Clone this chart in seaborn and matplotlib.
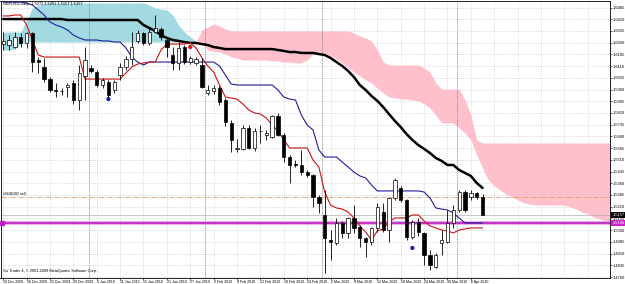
import numpy as np
import pandas as pd
import matplotlib
matplotlib.use("Agg")
import matplotlib.pyplot as plt
import seaborn as sns

# ---------------- data ----------------
title_text = "GBPUSD,Daily  1.5272 1.5291 1.5157 1.5157"
copyright_text = "Go Trader 4, \u00a9 2001-2009 MetaQuotes Software Corp."
order_text = "#5646282 sell"

date_labels = ["10 Dec 2009", "16 Dec 2009", "22 Dec 2009", "29 Dec 2009", "5 Jan 2010",
               "11 Jan 2010", "15 Jan 2010", "21 Jan 2010", "27 Jan 2010", "2 Feb 2010",
               "8 Feb 2010", "12 Feb 2010", "18 Feb 2010", "24 Feb 2010", "2 Mar 2010",
               "8 Mar 2010", "12 Mar 2010", "18 Mar 2010", "24 Mar 2010", "30 Mar 2010",
               "6 Apr 2010"]
month_start_bars = [15, 35, 55, 78]

price_ticks = [1.4760, 1.4835, 1.4910, 1.4985, 1.5060, 1.5135, 1.5210, 1.5285, 1.5360,
               1.5435, 1.5510, 1.5585, 1.5660, 1.5735, 1.5810, 1.5885, 1.5960, 1.6035,
               1.6110, 1.6185, 1.6260, 1.6335, 1.6410, 1.6485]

open_ = [1.6251, 1.6245, 1.6232, 1.6296, 1.6258, 1.6322, 1.6149, 1.6104, 1.6027, 1.5957,
         1.5951, 1.5976, 1.6002, 1.5893, 1.6047, 1.6098, 1.6072, 1.5989, 1.6008, 1.5957,
         1.6053, 1.6104, 1.6155, 1.6271, 1.6322, 1.6258, 1.6328, 1.6347, 1.6277, 1.6181,
         1.6130, 1.6232, 1.6136, 1.6130, 1.6117, 1.5938, 1.5951, 1.5970, 1.5893, 1.5746,
         1.5580, 1.5580, 1.5714, 1.5586, 1.5695, 1.5669, 1.5656, 1.5790, 1.5669, 1.5528,
         1.5483, 1.5477, 1.5432, 1.5413, 1.5272, 1.5157, 1.4997, 1.4978, 1.5106, 1.5042,
         1.5138, 1.5080, 1.5010, 1.4984, 1.5074, 1.5176, 1.5061, 1.5266, 1.5330, 1.5253,
         1.5016, 1.5112, 1.5042, 1.4901, 1.4824, 1.4978, 1.4984, 1.5106, 1.5189, 1.5304,
         1.5272, 1.5298, 1.5272]
high = [1.6328, 1.6309, 1.6328, 1.6322, 1.6328, 1.6328, 1.6168, 1.6162, 1.6040, 1.6002,
        1.5970, 1.6002, 1.6021, 1.6117, 1.6232, 1.6117, 1.6085, 1.6034, 1.6021, 1.6021,
        1.6130, 1.6175, 1.6328, 1.6341, 1.6328, 1.6354, 1.6437, 1.6360, 1.6290, 1.6232,
        1.6264, 1.6245, 1.6175, 1.6168, 1.6162, 1.5989, 1.5989, 1.5983, 1.5906, 1.5765,
        1.5643, 1.5733, 1.5733, 1.5714, 1.5733, 1.5701, 1.5797, 1.5810, 1.5682, 1.5541,
        1.5509, 1.5573, 1.5445, 1.5419, 1.5285, 1.5317, 1.5061, 1.5138, 1.5118, 1.5144,
        1.5221, 1.5093, 1.5016, 1.5080, 1.5234, 1.5234, 1.5272, 1.5394, 1.5343, 1.5259,
        1.5125, 1.5138, 1.5048, 1.4933, 1.4914, 1.5061, 1.5189, 1.5221, 1.5317, 1.5317,
        1.5317, 1.5304, 1.5291]
low = [1.6213, 1.6213, 1.6226, 1.6232, 1.6226, 1.6072, 1.6066, 1.6008, 1.5944, 1.5912,
       1.5925, 1.5912, 1.5867, 1.5829, 1.5893, 1.6066, 1.5976, 1.5970, 1.5906, 1.5938,
       1.6021, 1.6085, 1.6117, 1.6258, 1.6245, 1.6245, 1.6322, 1.6277, 1.6168, 1.6085,
       1.6085, 1.6123, 1.6123, 1.6117, 1.5970, 1.5925, 1.5931, 1.5861, 1.5727, 1.5560,
       1.5560, 1.5573, 1.5580, 1.5567, 1.5618, 1.5637, 1.5650, 1.5663, 1.5496, 1.5362,
       1.5464, 1.5413, 1.5400, 1.5208, 1.5170, 1.4786, 1.4869, 1.4965, 1.5013, 1.5010,
       1.5042, 1.4952, 1.4888, 1.4965, 1.5048, 1.5048, 1.4984, 1.5253, 1.5240, 1.4997,
       1.5003, 1.5023, 1.4837, 1.4805, 1.4818, 1.4901, 1.4978, 1.5074, 1.5176, 1.5176,
       1.5253, 1.5259, 1.5157]
close = [1.6271, 1.6277, 1.6296, 1.6258, 1.6322, 1.6136, 1.6136, 1.6027, 1.5957, 1.5951,
         1.5948, 1.5989, 1.5893, 1.6066, 1.6149, 1.6079, 1.5989, 1.6021, 1.5925, 1.6008,
         1.6104, 1.6155, 1.6232, 1.6322, 1.6258, 1.6328, 1.6354, 1.6296, 1.6232, 1.6130,
         1.6226, 1.6136, 1.6162, 1.6155, 1.5976, 1.5957, 1.5970, 1.5880, 1.5752, 1.5637,
         1.5586, 1.5714, 1.5586, 1.5695, 1.5692, 1.5682, 1.5790, 1.5669, 1.5528, 1.5477,
         1.5480, 1.5432, 1.5413, 1.5272, 1.5234, 1.5010, 1.4984, 1.5106, 1.5042, 1.5138,
         1.5074, 1.5010, 1.4984, 1.5074, 1.5208, 1.5061, 1.5266, 1.5381, 1.5253, 1.5016,
         1.5112, 1.5048, 1.4901, 1.4837, 1.4901, 1.4997, 1.5106, 1.5189, 1.5304, 1.5189,
         1.5298, 1.5272, 1.5157]

tenkan = [1.6431, 1.6431, 1.6437, 1.6437, 1.6373, 1.6277, 1.6181, 1.6168, 1.6168, 1.6168,
          1.6168, 1.6168, 1.6168, 1.6168, 1.6027, 1.6027, 1.6027, 1.6027, 1.6027, 1.6027,
          1.6027, 1.6066, 1.6104, 1.6123, 1.6130, 1.6136, 1.6136, 1.6213, 1.6251, 1.6251,
          1.6251, 1.6251, 1.6258, 1.6226, 1.6162, 1.6111, 1.6072, 1.5989, 1.5912, 1.5906,
          1.5899, 1.5867, 1.5829, 1.5810, 1.5803, 1.5778, 1.5733, 1.5695, 1.5637, 1.5586,
          1.5586, 1.5586, 1.5586, 1.5509, 1.5464, 1.5304, 1.5221, 1.5202, 1.5195, 1.5176,
          1.5138, 1.5087, 1.5048, 1.4997, 1.5055, 1.5068, 1.5112, 1.5138, 1.5138, 1.5138,
          1.5157, 1.5157, 1.5119, 1.5087, 1.5074, 1.5061, 1.5055, 1.5042, 1.5061, 1.5068,
          1.5074, 1.5074, 1.5074]
kijun = [1.6520, 1.6520, 1.6520, 1.6520, 1.6514, 1.6501, 1.6469, 1.6437, 1.6392, 1.6373,
         1.6360, 1.6341, 1.6309, 1.6290, 1.6277, 1.6277, 1.6277, 1.6271, 1.6271, 1.6264,
         1.6264, 1.6226, 1.6168, 1.6136, 1.6117, 1.6136, 1.6136, 1.6136, 1.6136, 1.6136,
         1.6136, 1.6136, 1.6136, 1.6136, 1.6136, 1.6136, 1.6136, 1.6111, 1.6053, 1.5995,
         1.5989, 1.5989, 1.5989, 1.5989, 1.5989, 1.5989, 1.5989, 1.5957, 1.5912, 1.5899,
         1.5893, 1.5797, 1.5733, 1.5701, 1.5573, 1.5528, 1.5528, 1.5528, 1.5496, 1.5464,
         1.5432, 1.5407, 1.5394, 1.5349, 1.5311, 1.5311, 1.5311, 1.5311, 1.5311, 1.5311,
         1.5311, 1.5311, 1.5304, 1.5266, 1.5202, 1.5195, 1.5189, 1.5170, 1.5138, 1.5106,
         1.5106, 1.5106, 1.5106]
slow_ma = [1.6411, 1.6411, 1.6411, 1.6411, 1.6411, 1.6411, 1.6411, 1.6411, 1.6411, 1.6411,
           1.6411, 1.6405, 1.6405, 1.6405, 1.6405, 1.6405, 1.6405, 1.6405, 1.6405, 1.6405,
           1.6405, 1.6405, 1.6405, 1.6405, 1.6373, 1.6354, 1.6335, 1.6309, 1.6290, 1.6277,
           1.6271, 1.6264, 1.6258, 1.6258, 1.6251, 1.6245, 1.6232, 1.6226, 1.6219, 1.6219,
           1.6219, 1.6219, 1.6219, 1.6219, 1.6219, 1.6219, 1.6219, 1.6213, 1.6207, 1.6200,
           1.6200, 1.6194, 1.6194, 1.6194, 1.6187, 1.6181, 1.6162, 1.6136, 1.6111, 1.6079,
           1.6040, 1.5989, 1.5957, 1.5919, 1.5887, 1.5848, 1.5803, 1.5759, 1.5720, 1.5675,
           1.5637, 1.5605, 1.5580, 1.5554, 1.5522, 1.5503, 1.5477, 1.5477, 1.5445, 1.5426,
           1.5407, 1.5362, 1.5330]
span_a = [1.6328, 1.6328, 1.6328, 1.6328, 1.6405, 1.6482, 1.6501, 1.6514, 1.6514, 1.6514,
          1.6514, 1.6514, 1.6514, 1.6514, 1.6514, 1.6514, 1.6514, 1.6514, 1.6514, 1.6514,
          1.6514, 1.6514, 1.6514, 1.6514, 1.6514, 1.6501, 1.6482, 1.6475, 1.6469, 1.6437,
          1.6373, 1.6328, 1.6296, 1.6271, 1.6258, 1.6213, 1.6207, 1.6200, 1.6187, 1.6168,
          1.6162, 1.6149, 1.6149, 1.6149, 1.6149, 1.6149, 1.6143, 1.6143, 1.6136, 1.6136,
          1.6130, 1.6130, 1.6149, 1.6187, 1.6200, 1.6194, 1.6175, 1.6155, 1.6130, 1.6098,
          1.6072, 1.6047, 1.6021, 1.6002, 1.5970, 1.5938, 1.5912, 1.5906, 1.5899, 1.5899,
          1.5893, 1.5887, 1.5867, 1.5842, 1.5797, 1.5746, 1.5746, 1.5746, 1.5714, 1.5682,
          1.5637, 1.5541, 1.5458, 1.5381, 1.5343, 1.5317, 1.5291, 1.5272, 1.5253, 1.5234,
          1.5227, 1.5221, 1.5221, 1.5221, 1.5221, 1.5221, 1.5221, 1.5208, 1.5195, 1.5176,
          1.5163, 1.5144, 1.5131, 1.5119, 1.5112]
span_b = [1.6213, 1.6213, 1.6219, 1.6251, 1.6264, 1.6264, 1.6264, 1.6264, 1.6264, 1.6264,
          1.6264, 1.6264, 1.6264, 1.6264, 1.6264, 1.6264, 1.6264, 1.6264, 1.6264, 1.6264,
          1.6264, 1.6264, 1.6264, 1.6264, 1.6264, 1.6264, 1.6264, 1.6264, 1.6264, 1.6264,
          1.6264, 1.6264, 1.6264, 1.6264, 1.6341, 1.6360, 1.6379, 1.6367, 1.6347, 1.6335,
          1.6335, 1.6335, 1.6335, 1.6335, 1.6335, 1.6335, 1.6335, 1.6335, 1.6335, 1.6335,
          1.6335, 1.6335, 1.6335, 1.6335, 1.6335, 1.6335, 1.6335, 1.6335, 1.6335, 1.6335,
          1.6322, 1.6303, 1.6290, 1.6271, 1.6213, 1.6136, 1.6117, 1.6117, 1.6117, 1.6117,
          1.6117, 1.6117, 1.6098, 1.6072, 1.6002, 1.5963, 1.5963, 1.5963, 1.5963, 1.5893,
          1.5797, 1.5637, 1.5618, 1.5618, 1.5618, 1.5618, 1.5618, 1.5618, 1.5618, 1.5618,
          1.5618, 1.5618, 1.5618, 1.5618, 1.5618, 1.5618, 1.5618, 1.5618, 1.5618, 1.5618,
          1.5618, 1.5618, 1.5618, 1.5618, 1.5618]

signal_up_bars = [18, 70]
signal_up_prices = [1.5899, 1.4946]
signal_dn_bars = [32]
signal_dn_prices = [1.6232]

order_price = 1.5272
bid_price = 1.5157
level_price = 1.5106

# ---------------- figure ----------------
sns.set_theme(style="white")
plt.rcParams['font.family'] = ['Liberation Sans', 'DejaVu Sans']

W, H = 625, 284
fig = plt.figure(figsize=(W / 100, H / 100), dpi=100)
ax = fig.add_axes([0.5 / W, (H - 277.5) / H, 609.5 / W, 276.5 / H])
ax.set_facecolor("white")

n = len(open_)
idx = np.arange(n)
cidx = np.arange(len(span_a))
sa = np.array(span_a)
sb = np.array(span_b)

# cloud
ax.fill_between(cidx, sa, sb, where=sa >= sb, interpolate=True,
                color="#A3D9E0", lw=0, zorder=1)
ax.fill_between(cidx, sa, sb, where=sa < sb, interpolate=True,
                color="#FFC0CB", lw=0, zorder=1)

# grid
grid_pos = np.arange(0, 104, 4)
for gp in grid_pos:
    ax.axvline(gp, color="#c4c4c4", lw=0.5, ls=(0, (1, 1.5)), zorder=0.5)
for pt in price_ticks:
    ax.axhline(pt, color="#c4c4c4", lw=0.5, ls=(0, (1, 1.5)), zorder=0.5)
for mb in month_start_bars:
    ax.axvline(mb - 0.4, color="#707070", lw=0.6, ls=(0, (1, 1.2)), zorder=1.5)

# horizontal levels
ax.axhline(order_price, color="#D9A06E", lw=0.6, ls="-.", zorder=2)
ax.axhline(bid_price, color="#B0B0B0", lw=0.5, zorder=2)
ax.axhline(level_price, color="#E89AE8", lw=2.6, zorder=2)
ax.axhline(level_price, color="#C020C0", lw=1.2, zorder=2.1)
ax.plot([-0.2], [level_price], marker="s", ms=2.2, color="#C020C0", zorder=3, clip_on=False)

# indicator lines
df = pd.DataFrame({"bar": idx, "tenkan": tenkan, "kijun": kijun, "ma": slow_ma})
sns.lineplot(data=df, x="bar", y="ma", ax=ax, color="black", lw=1.8, zorder=5)
sns.lineplot(data=df, x="bar", y="kijun", ax=ax, color="#1F1FA0", lw=0.8, zorder=5)
sns.lineplot(data=df, x="bar", y="tenkan", ax=ax, color="#C81414", lw=0.8, zorder=5)

# candles
o = np.array(open_); c = np.array(close); h = np.array(high); l = np.array(low)
up = c >= o
ax.vlines(idx, l, h, color="black", lw=0.6, zorder=6)
body_h = np.maximum(np.abs(c - o), 0.00009)
ax.bar(idx, body_h, bottom=np.minimum(o, c), width=0.56,
       color=np.where(up, "white", "black"), edgecolor="black", lw=0.5, zorder=7)

# signal dots
sns.scatterplot(x=signal_up_bars, y=signal_up_prices, ax=ax, color="#1A1AB4",
                s=9, edgecolor="none", zorder=8)
sns.scatterplot(x=signal_dn_bars, y=signal_dn_prices, ax=ax, color="#E01010",
                s=9, edgecolor="none", zorder=8)

# axes limits / ticks
ax.set_xlim(-0.46, 103.8)
ax.set_ylim(1.47570, 1.65266)
ax.yaxis.tick_right()
ax.set_yticks(price_ticks)
ax.set_yticklabels([f"{v:.4f}" for v in price_ticks], fontsize=2.9, color="black")
ax.tick_params(axis="y", length=1.5, width=0.5, pad=0.6, right=True, left=False)
xt = [4 * k for k in range(len(date_labels))]
ax.set_xticks(xt)
ax.set_xticklabels(date_labels, fontsize=2.6, color="black")
for lbl in ax.get_xticklabels():
    lbl.set_ha("left")
ax.tick_params(axis="x", length=1.2, width=0.5, pad=0.3, bottom=True)
ax.set_xlabel("")
ax.set_ylabel("")
for s in ax.spines.values():
    s.set_color("black")
    s.set_linewidth(0.6)

# texts
ax.text(0.004, 0.996, title_text, transform=ax.transAxes, fontsize=2.8,
        va="top", ha="left", color="black", zorder=9)
ax.text(0.004, 0.018, copyright_text, transform=ax.transAxes, fontsize=2.8,
        va="bottom", ha="left", color="black", zorder=9)
ax.text(0.0, order_price + 0.0006, order_text, fontsize=2.6, va="bottom",
        ha="left", color="black", zorder=9)
ax.text(1.004, bid_price, f"{bid_price:.4f}", transform=ax.get_yaxis_transform(),
        fontsize=2.9, color="white", va="center", ha="left", zorder=10,
        bbox=dict(boxstyle="square,pad=0.3", fc="black", ec="none"))
ax.text(1.004, level_price, f"{level_price:.4f}", transform=ax.get_yaxis_transform(),
        fontsize=2.9, color="white", va="center", ha="left", zorder=10,
        bbox=dict(boxstyle="square,pad=0.3", fc="#D020D0", ec="none"))

fig.savefig("out.png", dpi=100, facecolor="white")
